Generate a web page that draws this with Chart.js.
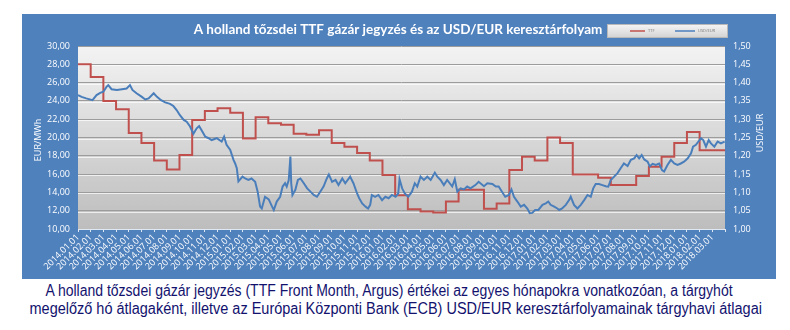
<!DOCTYPE html>
<html>
<head>
<meta charset="utf-8">
<script src="https://cdn.jsdelivr.net/npm/chart.js@4.4.0/dist/chart.umd.min.js"></script>
<style>
  body { margin: 0; background: #fff; width: 790px; height: 330px; overflow: hidden; position: relative; }
  #panel { position: absolute; left: 22px; top: 14px; width: 754px; height: 265px; background: #4f81bd; }
  .caption { position: absolute; width: 790px; text-align: center; white-space: nowrap; color: #12126e;
             font-family: 'Liberation Sans', Arial, sans-serif; font-size: 16px; line-height: 18px; transform-origin: 395px 0; }
</style>
</head>
<body>
<div id="panel"><canvas id="gasChart" width="754" height="265"></canvas></div>
<div class="caption" data-scale="0.875" style="top:282px; left:-6px">A holland tőzsdei gázár jegyzés (TTF Front Month, Argus) értékei az egyes hónapokra vonatkozóan, a tárgyhót</div>
<div class="caption" data-scale="0.905" style="top:300px; left:-8px">megelőző hó átlagaként, illetve az Európai Központi Bank (ECB) USD/EUR keresztárfolyamainak tárgyhavi átlagai</div>
<script>
// havi tengelyfeliratok
const monthLabels = [
  '2014.01.01','2014.02.01','2014.03.01','2014.04.01','2014.05.01','2014.06.01','2014.07.01','2014.08.01','2014.09.01','2014.10.01','2014.11.01','2014.12.01',
  '2015.01.01','2015.02.01','2015.03.01','2015.04.01','2015.05.01','2015.06.01','2015.07.01','2015.08.01','2015.09.01','2015.10.01','2015.11.01','2015.12.01',
  '2016.01.01','2016.02.01','2016.03.01','2016.04.01','2016.05.01','2016.06.01','2016.07.01','2016.08.01','2016.09.01','2016.10.01','2016.11.01','2016.12.01',
  '2017.01.01','2017.02.01','2017.03.01','2017.04.01','2017.05.01','2017.06.01','2017.07.01','2017.08.01','2017.09.01','2017.10.01','2017.11.01','2017.12.01',
  '2018.01.01','2018.02.01','2018.03.01'
];

// TTF front month, EUR/MWh (havonta egy ertek)
const ttfValues = [
  28.0, 26.6, 24.0, 23.1, 20.5, 19.4, 17.5, 16.5, 18.1, 21.9, 22.9, 23.2,
  22.7, 19.9, 22.2, 21.55, 21.4, 20.4, 20.3, 20.8, 19.4, 19.0, 18.3, 17.5,
  15.9, 13.7, 12.15, 11.9, 11.8, 13.0, 14.3, 14.3, 12.2, 12.8, 16.45, 17.9,
  17.5, 20.0, 19.4, 15.95, 15.95, 15.6, 14.8, 14.8, 15.8, 16.8, 17.9, 19.4,
  20.6, 18.6, 18.6
];

// USD/EUR arfolyam
const usdDates = [
  '2014.01.01','2014.01.10','2014.01.21','2014.02.05','2014.02.14','2014.02.22','2014.03.01','2014.03.09','2014.03.13','2014.03.21',
  '2014.04.03','2014.04.15','2014.04.26','2014.05.04','2014.05.10','2014.05.20','2014.06.02','2014.06.10','2014.06.18','2014.06.30',
  '2014.07.08','2014.07.18','2014.07.28','2014.08.09','2014.08.17','2014.08.25','2014.09.02','2014.09.11','2014.09.18','2014.09.26',
  '2014.10.04','2014.10.12','2014.10.18','2014.10.24','2014.11.02','2014.11.10','2014.11.17','2014.11.29','2014.12.11','2014.12.17',
  '2014.12.23','2015.01.01','2015.01.09','2015.01.13','2015.01.17','2015.01.21','2015.01.31','2015.02.06','2015.02.13','2015.02.20',
  '2015.02.28','2015.03.06','2015.03.12','2015.03.16','2015.03.24','2015.04.02','2015.04.10','2015.04.14','2015.04.21','2015.04.29',
  '2015.05.05','2015.05.11','2015.05.15','2015.05.20','2015.05.24','2015.05.26','2015.05.29','2015.06.05','2015.06.11','2015.06.17',
  '2015.06.25','2015.07.03','2015.07.11','2015.07.19','2015.07.27','2015.08.04','2015.08.12','2015.08.20','2015.08.25','2015.09.02',
  '2015.09.10','2015.09.17','2015.09.26','2015.10.03','2015.10.15','2015.10.23','2015.11.01','2015.11.06','2015.11.13','2015.11.21',
  '2015.11.27','2015.12.02','2015.12.06','2015.12.14','2015.12.22','2015.12.31','2016.01.08','2016.01.16','2016.01.24','2016.02.02',
  '2016.02.08','2016.02.11','2016.02.17','2016.02.23','2016.03.02','2016.03.11','2016.03.18','2016.03.24','2016.04.01','2016.04.09',
  '2016.04.17','2016.04.25','2016.05.05','2016.05.11','2016.05.19','2016.05.27','2016.06.04','2016.06.16','2016.06.22','2016.06.28',
  '2016.07.06','2016.07.14','2016.07.22','2016.07.30','2016.08.11','2016.08.19','2016.09.01','2016.09.09','2016.09.21','2016.09.29',
  '2016.10.06','2016.10.14','2016.10.22','2016.10.31','2016.11.06','2016.11.12','2016.11.20','2016.11.28','2016.12.06','2016.12.14',
  '2016.12.20','2016.12.26','2017.01.02','2017.01.10','2017.01.20','2017.01.28','2017.02.03','2017.02.08','2017.02.16','2017.02.23',
  '2017.02.27','2017.03.06','2017.03.15','2017.03.23','2017.03.27','2017.04.04','2017.04.12','2017.04.20','2017.04.28','2017.05.06',
  '2017.05.14','2017.05.20','2017.05.26','2017.06.03','2017.06.11','2017.06.19','2017.06.25','2017.07.01','2017.07.09','2017.07.17',
  '2017.07.25','2017.08.02','2017.08.11','2017.08.19','2017.08.27','2017.09.02','2017.09.08','2017.09.14','2017.09.20','2017.09.28',
  '2017.10.03','2017.10.10','2017.10.18','2017.10.26','2017.11.02','2017.11.07','2017.11.15','2017.11.23','2017.12.01','2017.12.09',
  '2017.12.17','2017.12.25','2018.01.03','2018.01.11','2018.01.16','2018.01.23','2018.01.29','2018.02.04','2018.02.09','2018.02.15',
  '2018.02.21','2018.02.26','2018.03.06','2018.03.14','2018.03.22','2018.03.31'
];
const usdValues = [
  1.366, 1.361, 1.357, 1.352, 1.366, 1.372, 1.375, 1.389, 1.393, 1.382,
  1.380, 1.382, 1.384, 1.393, 1.380, 1.371, 1.361, 1.354, 1.357, 1.371,
  1.361, 1.352, 1.346, 1.342, 1.336, 1.325, 1.311, 1.298, 1.293, 1.280,
  1.260, 1.275, 1.281, 1.270, 1.252, 1.248, 1.243, 1.248, 1.239, 1.252,
  1.230, 1.216, 1.189, 1.179, 1.166, 1.130, 1.143, 1.138, 1.134, 1.138,
  1.129, 1.102, 1.061, 1.056, 1.088, 1.081, 1.061, 1.052, 1.075, 1.088,
  1.116, 1.125, 1.116, 1.134, 1.198, 1.125, 1.093, 1.107, 1.134, 1.138,
  1.125, 1.111, 1.102, 1.093, 1.088, 1.102, 1.116, 1.138, 1.149, 1.129,
  1.134, 1.120, 1.138, 1.125, 1.143, 1.125, 1.097, 1.084, 1.070, 1.061,
  1.056, 1.066, 1.093, 1.088, 1.093, 1.079, 1.088, 1.084, 1.093, 1.088,
  1.097, 1.136, 1.111, 1.097, 1.088, 1.102, 1.125, 1.116, 1.143, 1.134,
  1.143, 1.134, 1.154, 1.143, 1.134, 1.120, 1.134, 1.116, 1.136, 1.102,
  1.111, 1.108, 1.116, 1.111, 1.120, 1.129, 1.117, 1.125, 1.123, 1.116,
  1.116, 1.102, 1.088, 1.093, 1.108, 1.088, 1.075, 1.061, 1.066, 1.056,
  1.043, 1.044, 1.052, 1.052, 1.066, 1.070, 1.075, 1.066, 1.061, 1.056,
  1.052, 1.056, 1.066, 1.079, 1.088, 1.066, 1.056, 1.066, 1.079, 1.093,
  1.088, 1.111, 1.123, 1.123, 1.120, 1.117, 1.116, 1.134, 1.143, 1.152,
  1.166, 1.179, 1.172, 1.189, 1.193, 1.202, 1.193, 1.202, 1.190, 1.184,
  1.171, 1.178, 1.175, 1.179, 1.161, 1.157, 1.175, 1.189, 1.179, 1.175,
  1.179, 1.184, 1.193, 1.207, 1.225, 1.230, 1.239, 1.248, 1.243, 1.225,
  1.243, 1.234, 1.225, 1.239, 1.234, 1.239
];

// a lablec sorai keskenyitve
document.querySelectorAll('.caption').forEach(function (el) {
  el.style.transform = 'scaleX(' + el.dataset.scale + ')';
});

// datum -> honap index (2014.01.01 = 0)
function datePos(s) {
  const [y, m, d] = s.split('.').map(Number);
  const days = new Date(y, m, 0).getDate();
  return (y - 2014) * 12 + (m - 1) + (d - 1) / days;
}

const ttfPoints = ttfValues.map((v, i) => ({ x: i, y: v }));
ttfPoints.push({ x: ttfValues.length, y: ttfValues[ttfValues.length - 1] });
const usdPoints = usdDates.map((d, i) => ({ x: datePos(d), y: usdValues[i] }));

const tickFont = { family: 'Open Sans', size: 9 };
const comma = v => v.toFixed(2).replace('.', ',');

const panelDecor = {
  id: 'panelDecor',
  beforeDraw(chart) {
    const { ctx, chartArea: a } = chart;
    const g = ctx.createLinearGradient(0, a.top, 0, a.bottom);
    g.addColorStop(0, '#f3f3f3');
    g.addColorStop(1, '#bdbdbd');
    ctx.save();
    ctx.fillStyle = g;
    ctx.fillRect(a.left, a.top, a.right - a.left, a.bottom - a.top);
    ctx.restore();
  },
  beforeDatasetsDraw(chart) {
    // halvany vonal a racsvonalak alatt
    const { ctx, chartArea: a, scales } = chart;
    ctx.save();
    ctx.strokeStyle = 'rgba(255,255,255,0.7)';
    ctx.lineWidth = 1;
    scales.y.ticks.forEach(t => {
      const y = Math.round(scales.y.getPixelForValue(t.value)) + 1.5;
      if (y < a.bottom - 1 && y > a.top + 2) {
        ctx.beginPath(); ctx.moveTo(a.left, y); ctx.lineTo(a.right, y); ctx.stroke();
      }
    });
    ctx.restore();
  },
  afterDraw(chart) {
    const ctx = chart.ctx;
    ctx.save();
    // cim
    ctx.fillStyle = '#fff';
    ctx.font = 'bold 13.5px Lato';
    ctx.textAlign = 'center';
    ctx.textBaseline = 'middle';
    ctx.fillText('A holland tőzsdei TTF gázár jegyzés és az USD/EUR keresztárfolyam', 376, 16);

    // tengelycimek
    ctx.font = '9px "Open Sans"';
    ctx.save();
    ctx.translate(16, 126);
    ctx.rotate(-Math.PI / 2);
    ctx.fillText('EUR/MWh', 0, 0);
    ctx.restore();
    ctx.save();
    ctx.translate(738, 119);
    ctx.rotate(-Math.PI / 2);
    ctx.fillText('USD/EUR', 0, 0);
    ctx.restore();

    // jelmagyarazat
    const lx = 585, ly = 10, lw = 121, lh = 14;
    const lg = ctx.createLinearGradient(0, ly, 0, ly + lh);
    lg.addColorStop(0, '#f6f6f6');
    lg.addColorStop(1, '#d2d2d2');
    ctx.fillStyle = lg;
    ctx.fillRect(lx, ly, lw, lh);
    ctx.strokeStyle = '#b8b8b8';
    ctx.lineWidth = 1;
    ctx.strokeRect(lx + 0.5, ly + 0.5, lw - 1, lh - 1);
    ctx.lineWidth = 1.5;
    ctx.strokeStyle = '#c0504d';
    ctx.beginPath(); ctx.moveTo(lx + 23, ly + 7); ctx.lineTo(lx + 38, ly + 7); ctx.stroke();
    ctx.strokeStyle = '#4a7ebb';
    ctx.beginPath(); ctx.moveTo(lx + 68, ly + 7); ctx.lineTo(lx + 88, ly + 7); ctx.stroke();
    ctx.fillStyle = '#777';
    ctx.font = '4px "Open Sans"';
    ctx.textAlign = 'left';
    ctx.fillText('TTF', lx + 41, ly + 7);
    ctx.fillText('USD/EUR', lx + 91, ly + 7);
    ctx.restore();
  }
};

new Chart(document.getElementById('gasChart'), {
  type: 'line',
  data: {
    datasets: [
      {
        label: 'TTF',
        data: ttfPoints,
        yAxisID: 'y',
        borderColor: '#c0504d',
        borderWidth: 2,
        stepped: 'before',
        pointRadius: 0,
        order: 1
      },
      {
        label: 'USD/EUR',
        data: usdPoints,
        yAxisID: 'y1',
        borderColor: '#4a7ebb',
        borderWidth: 2,
        tension: 0,
        pointRadius: 0,
        order: 0
      }
    ]
  },
  options: {
    responsive: false,
    animation: false,
    devicePixelRatio: 1,
    layout: { padding: { top: 32, left: 0, right: 0, bottom: 0 } },
    plugins: { legend: { display: false }, tooltip: { enabled: false } },
    scales: {
      x: {
        type: 'linear',
        min: 0,
        max: 51,
        grid: { drawOnChartArea: false, color: '#dfe7f2', tickLength: 3 },
        border: { color: '#dfe7f2' },
        ticks: {
          stepSize: 1,
          autoSkip: false,
          minRotation: 45,
          maxRotation: 45,
          color: '#fff',
          font: tickFont,
          padding: 0,
          callback: v => monthLabels[v] || ''
        },
        afterFit: s => { s.height = 50; }
      },
      y: {
        position: 'left',
        min: 10,
        max: 30,
        grid: { color: '#9c9c9c', drawTicks: false },
        border: { display: false },
        ticks: { stepSize: 2, color: '#fff', font: tickFont, padding: 8, callback: v => comma(v) },
        afterFit: s => { s.width = 56; }
      },
      y1: {
        position: 'right',
        min: 1,
        max: 1.5,
        grid: { drawOnChartArea: false, drawTicks: false },
        border: { display: false },
        ticks: { stepSize: 0.05, color: '#fff', font: tickFont, padding: 8, callback: v => comma(v) },
        afterFit: s => { s.width = 51; }
      }
    }
  },
  plugins: [panelDecor]
});
</script>
</body>
</html>
